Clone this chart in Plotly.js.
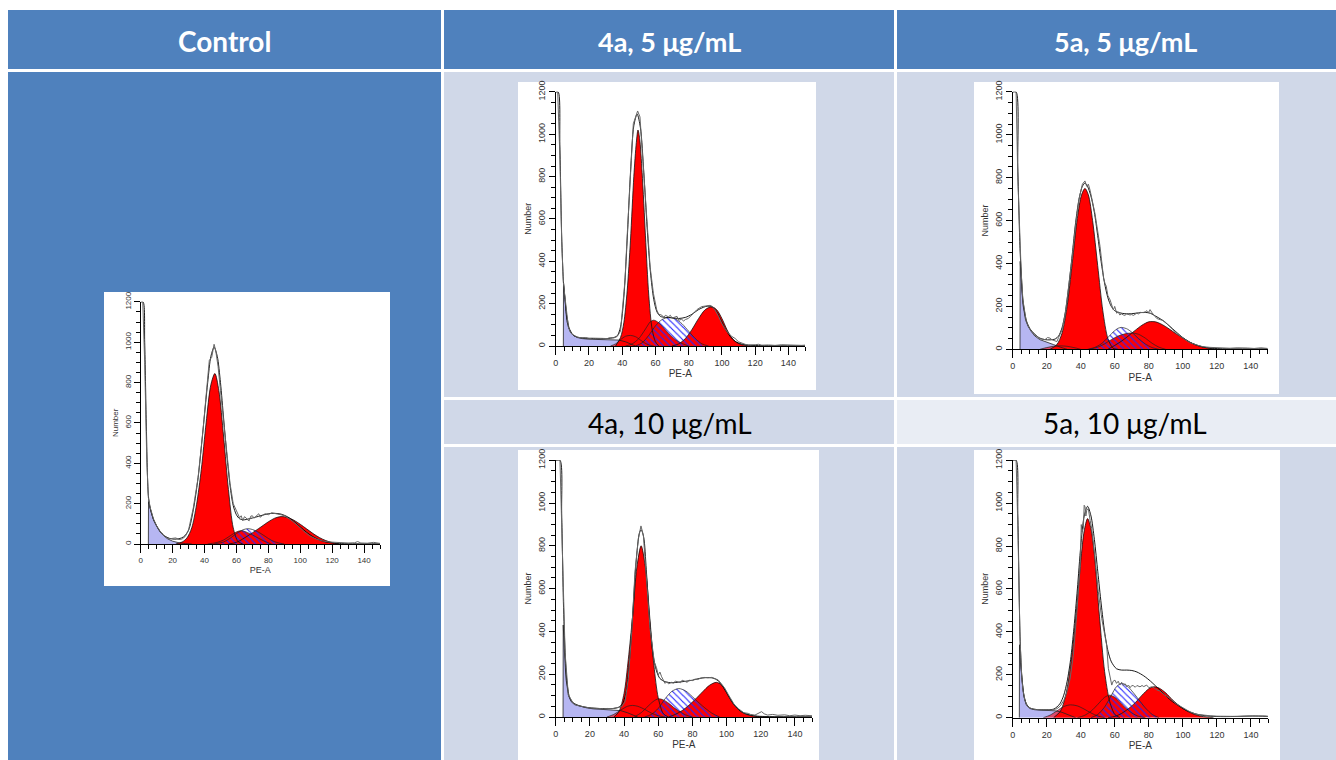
<!DOCTYPE html>
<html><head><meta charset="utf-8">
<script src="https://cdn.plot.ly/plotly-3.0.1.min.js"></script>
<style>html,body{margin:0;padding:0;background:#fff;overflow:hidden}#chart{width:1336px;height:760px}</style>
</head><body><div id="chart"></div>
<script>
// ---------- column / row labels ----------
const headerLabels = ['Control', '4a, 5 \u03bcg/mL', '5a, 5 \u03bcg/mL'];
const subLabels = ['4a, 10 \u03bcg/mL', '5a, 10 \u03bcg/mL'];
const xTitle = 'PE-A';
const yTitle = 'Number';

// ---------- Control ----------
const ctrlDebris = [[4.8,0],[4.9,210],[5.5,190],[6.5,160],[8,120],[10,88],[12,62],[14,44],[17,25],[20,14],[24,6],[28,2],[32,0]];
const ctrlAgg = null;
const ctrlG1 = [[22,0],[26,10],[29,30],[32,80],[35,195],[38,370],[41,600],[44,790],[46.5,845],[49,760],[52,530],[55,270],[58,80],[61,12],[64,0]];
const ctrlH2 = [[42,0],[48,8],[52,20],[56,40],[60,60],[63,66],[66,60],[70,45],[74,28],[78,12],[82,0]];
const ctrlS = [[46,0],[52,10],[56,28],[60,52],[64,70],[67,76],[70,72],[74,58],[78,38],[82,18],[86,6],[90,0]];
const ctrlG2 = [[55,0],[60,8],[64,25],[68,45],[72,66],[76,88],[80,110],[84,128],[88,136],[92,132],[96,118],[100,98],[104,75],[108,52],[112,32],[116,17],[120,7],[124,0]];
const ctrlData = [[0,1200],[1.3,1200],[2.5,900],[3.8,420],[4.8,230],[6,180],[8,125],[10,90],[12,65],[14,45],[16,32],[18,25],[20,28],[22,30],[24,22],[26,25],[28,38],[30,70],[33,180],[36,330],[39,560],[42,850],[43,910],[44.5,925],[46,990],[47,960],[48.5,880],[50,760],[52,610],[54,450],[56,300],[58,200],[60,165],[61,150],[62,130],[63,140],[64,115],[65,135],[66,130],[67,120],[68,115],[69,138],[70,140],[71,128],[72,135],[73,145],[74,150],[75,132],[76,140],[78,150],[80,145],[82,155],[84,150],[86,148],[88,145],[90,140],[94,120],[98,95],[102,65],[106,40],[110,25],[114,15],[118,10],[122,8],[126,8],[130,5],[134,6],[136,12],[138,5],[142,4],[146,8],[150,3]];
const ctrlFit = [[0,1200],[1.5,1200],[2.5,1000],[3.5,600],[4.8,240],[6,175],[8,122],[10,90],[12,64],[15,40],[18,28],[21,24],[24,26],[27,36],[30,68],[33,170],[36,330],[39,560],[42,800],[44,930],[46,975],[48,930],[50,800],[52,620],[54,440],[56,290],[58,190],[60,145],[62,125],[65,120],[68,125],[72,133],[76,142],[80,150],[84,152],[88,148],[92,135],[96,112],[100,85],[104,58],[108,36],[112,20],[116,10],[120,5],[126,2],[135,1],[150,1]];

// ---------- 4a, 5 ug/mL ----------
const a5Debris = [[4.6,0],[4.7,300],[5.5,230],[6.5,150],[8,85],[10,55],[13,40],[16,35],[20,32],[25,31],[30,31],[35,30],[38,28],[42,20],[46,8],[48,0]];
const a5Agg = [[33,0],[36,10],[39,30],[42,46],[45,50],[48,44],[51,28],[54,12],[57,3],[59,0]];
const a5G1 = [[36,0],[39,40],[41,110],[43,260],[45,500],[47,800],[48.5,960],[49.5,1020],[50.5,980],[52,820],[54,520],[56,240],[58,80],[60,20],[62,0]];
const a5H2 = [[42,0],[46,10],[50,35],[54,80],[57,115],[59,122],[62,110],[65,85],[68,58],[72,30],[76,12],[80,0]];
const a5S = [[48,0],[52,15],[56,50],[60,95],[64,125],[68,135],[72,128],[76,105],[80,70],[84,35],[88,10],[92,0]];
const a5G2 = [[70,0],[74,10],[78,35],[82,78],[86,130],[90,172],[94,185],[97,170],[100,130],[103,78],[106,38],[109,16],[112,6],[116,1],[120,0]];
const a5Data = [[0,1200],[1.2,1200],[2.5,900],[3.6,500],[4.6,300],[5.6,230],[7.6,91],[9,62],[10.6,52],[13,42],[15.6,38],[18,40],[20,36],[22,37],[25,35],[28,36],[31,35],[33,40],[35,38],[37,45],[39,70],[41.7,311],[43,520],[44.7,783],[46,980],[46.7,1050],[48.1,1082],[49.3,1110],[50.7,1082],[52.7,862],[54.8,594],[56.8,374],[58.8,248],[60.8,170],[62,150],[63.8,146],[65,135],[66,145],[67.8,138],[69,145],[70,132],[71.8,135],[73,140],[74,122],[75.8,126],[77,118],[78,125],[79.8,130],[81,140],[83.8,162],[85,172],[87.8,186],[90,190],[92.9,192],[94,188],[95.9,170],[98,140],[99.9,107],[102,80],[103.9,60],[106,45],[107.9,36],[110,20],[111.9,13],[114,8],[115.9,5],[118,4],[120,6],[122,8],[124,4],[128,5],[132,3],[136,6],[140,4],[144,5],[148,3],[150,4]];
const a5Fit = [[0,1200],[1.5,1200],[2.5,950],[3.6,520],[4.6,310],[5.6,220],[7,110],[9,65],[11,48],[14,40],[18,37],[24,35],[30,35],[34,38],[37,48],[39,90],[41,230],[43,500],[45,820],[47,1040],[49,1095],[51,1030],[53,820],[55,560],[57,350],[59,220],[61,160],[63,140],[66,135],[70,133],[74,130],[78,135],[82,150],[86,172],[90,186],[93,188],[96,172],[99,130],[102,82],[105,45],[108,22],[112,9],[116,4],[122,2],[150,1]];

// ---------- 5a, 5 ug/mL ----------
const b5Debris = [[4.3,0],[4.4,410],[5,330],[6,210],[7.5,140],[9,108],[11,82],[13,62],[16,45],[20,35],[24,22],[28,10],[32,0]];
const b5Agg = [[16,0],[20,8],[24,14],[28,16],[32,14],[36,8],[40,0]];
const b5G1 = [[22,0],[26,22],[29,75],[32,200],[35,400],[38,610],[40.5,720],[42.5,750],[44.5,720],[47,600],[50,390],[53,180],[56,50],[59,5],[62,0]];
const b5H2 = [[45,0],[50,10],[54,25],[58,45],[62,62],[66,72],[70,76],[74,70],[78,52],[82,28],[86,10],[90,0]];
const b5S = [[44,0],[48,8],[52,25],[56,55],[59,80],[62,98],[64,102],[67,96],[70,80],[74,50],[78,25],[82,8],[86,0]];
const b5G2 = [[56,0],[60,18],[64,38],[68,62],[72,88],[76,112],[80,128],[84,128],[88,115],[92,95],[96,73],[100,53],[104,34],[108,20],[112,10],[116,4],[120,0]];
const b5Data = [[0,1200],[2,1200],[3,800],[4.3,460],[5,360],[6,230],[8,130],[10,95],[13,68],[16,50],[19,45],[20.5,55],[22,52],[23,45],[25,40],[26,36],[27,55],[29,90],[31,170],[33,290],[35,430],[37,580],[39,700],[41,770],[42.5,785],[43.5,760],[44.5,770],[45.5,742],[48.4,633],[51.4,478],[53.5,330],[54.3,307],[55,295],[56,250],[57.3,230],[59.2,183],[60,200],[61.2,168],[62,175],[63,160],[64,165],[65.1,160],[66,158],[67,165],[69,160],[70,162],[71,158],[72.9,168],[74,165],[75,172],[76.9,171],[78,175],[79,180],[80,172],[80.8,185],[82,170],[84.7,144],[86,140],[88.6,134],[90,125],[92.5,106],[96,78],[100.4,51],[104,32],[108.2,20],[112,12],[116,9],[120,7],[124,5],[127.8,5],[132,7],[135,5],[138,6],[142,4],[146,7],[150,4]];
const b5Fit = [[0,1200],[2,1200],[3,850],[4.3,470],[5,360],[6,230],[8,135],[10,98],[13,70],[16,52],[19,45],[22,44],[25,48],[27,62],[29,100],[31,175],[33,295],[35,440],[37,590],[39,700],[41,760],[42.5,775],[44,760],[46,715],[48,640],[50,530],[52,410],[54,310],[56,240],[58,200],[60,180],[63,170],[66,166],[70,166],[74,170],[78,172],[81,168],[84,155],[88,136],[92,110],[96,82],[100,55],[104,34],[108,20],[112,11],[116,6],[122,3],[150,2]];

// ---------- 4a, 10 ug/mL ----------
const a10Debris = [[4.3,0],[4.4,430],[5,320],[6,180],[7.5,100],[9,72],[11,58],[14,50],[18,43],[22,38],[26,36],[30,35],[34,33],[38,30],[42,20],[46,8],[48,0]];
const a10Agg = [[30,0],[34,12],[38,32],[42,50],[45,54],[48,50],[52,36],[56,18],[60,6],[64,0]];
const a10G1 = [[34,0],[37,25],[40,110],[42.5,270],[45,470],[47.5,700],[50,800],[52.5,700],[55,470],[57.5,240],[60,90],[63,15],[66,0]];
const a10H2 = [[46,0],[50,20],[54,50],[57,72],[60,85],[63,80],[66,65],[69,45],[72,28],[76,10],[80,0]];
const a10S = [[52,0],[56,12],[60,40],[64,85],[68,120],[72,133],[76,122],[80,95],[84,65],[88,38],[92,15],[96,0]];
const a10G2 = [[66,0],[70,12],[74,30],[78,55],[82,85],[86,118],[90,148],[94,162],[97,150],[100,115],[103,72],[106,42],[110,18],[114,7],[118,2],[122,0]];
const a10Data = [[0,1200],[2.5,1200],[3.5,900],[4.5,520],[5.5,300],[7.4,103],[10.3,64],[12,55],[15.2,48],[18,45],[20,42],[22,40],[25,40],[28,38],[30,40],[33,39],[36,42],[38.6,48],[40.6,72],[42.5,180],[44.5,398],[46.4,678],[48.4,834],[49.9,893],[51.3,850],[53.2,647],[55.2,414],[57.7,258],[59,230],[60,196],[61,210],[62,188],[63,175],[64,157],[65,165],[66,155],[67.8,162],[69,158],[70,168],[71.7,165],[73,160],[74,172],[75.6,168],[77,162],[78,172],[80,170],[81.5,177],[83,175],[85,182],[87.3,185],[89,183],[91.2,185],[93,180],[95.1,173],[97,155],[99,134],[101,105],[102.9,79],[104.5,58],[106.8,40],[109,28],[110,20],[112.7,17],[114,12],[116.6,9],[118,14],[120.5,25],[122,15],[124,9],[127,12],[130,8],[134,10],[137,6],[140,9],[143,6],[146,8],[150,6]];
const a10Fit = [[0,1200],[2.5,1200],[3.5,950],[4.5,540],[5.5,300],[6.5,170],[8,95],[10,68],[13,55],[16,48],[20,43],[25,40],[30,39],[34,40],[37,46],[39,60],[41,110],[43,250],[45,470],[47,720],[49,860],[50,875],[51.5,840],[53,690],[55,450],[57,290],[59,215],[61,180],[64,165],[68,160],[72,163],[76,167],[80,172],[84,180],[88,184],[92,182],[95,170],[98,140],[101,100],[104,62],[107,35],[110,19],[114,9],[118,4],[125,2],[150,1]];

// ---------- 5a, 10 ug/mL ----------
const b10Debris = [[3.9,0],[4,340],[4.6,250],[5.5,160],[6.5,100],[8,60],[10,43],[13,37],[17,35],[21,34],[25,32],[29,25],[33,12],[37,0]];
const b10Agg = [[18,0],[22,12],[26,32],[30,52],[34,60],[38,55],[42,40],[46,22],[50,8],[54,0]];
const b10G1 = [[24,0],[28,30],[31,100],[34,240],[37,460],[40,730],[42,870],[44,928],[46,880],[48,760],[51,470],[54,215],[57,75],[60,15],[63,0]];
const b10H2 = [[38,0],[42,10],[46,30],[50,62],[54,95],[57,105],[60,95],[63,72],[66,48],[70,22],[74,6],[78,0]];
const b10S = [[46,0],[50,15],[54,50],[58,105],[61,145],[64,160],[67,150],[70,125],[74,85],[78,45],[82,15],[86,0]];
const b10G2 = [[56,0],[60,6],[64,20],[68,42],[72,70],[76,105],[80,135],[83,144],[86,138],[90,115],[94,82],[98,55],[102,33],[106,18],[110,8],[114,3],[118,0]];
const b10Data = [[0,1200],[2,1200],[3,900],[4.3,370],[5.3,190],[6,130],[7.2,80],[8.5,55],[10.2,45],[12,40],[14.1,38],[17,37],[20,36],[23,36],[26,42],[28,55],[30,80],[31.5,110],[33.7,180],[35.6,290],[37.6,480],[39.6,700],[40.3,900],[40.7,866],[41.5,882],[42,990],[42.5,983],[43,940],[43.5,967],[44.4,975],[45.5,920],[46.4,882],[48.4,742],[50.3,587],[52.3,463],[54,380],[55.2,338],[56.2,230],[57,200],[58.2,152],[59,170],[60.1,175],[61,160],[62,170],[63,152],[64,165],[65,150],[66,158],[67,144],[68,152],[69,140],[70,150],[70.9,149],[72,142],[73,150],[74.8,144],[76,150],[77,145],[78.7,152],[80,140],[81.7,144],[83,140],[84,132],[86.5,124],[89,108],[92.4,90],[96,65],[100.3,43],[104,28],[108,16],[112,11],[116,9],[120,7],[124,6],[128,8],[132,6],[136,7],[140,8],[144,6],[148,8],[150,6]];
const b10Fit = [[0,1200],[2,1200],[3,950],[4.3,380],[5.3,200],[6.5,110],[8,65],[10,46],[13,39],[17,37],[21,37],[24,40],[26,50],[28,68],[30,105],[32,170],[34,270],[36,420],[38,600],[40,800],[42,940],[44,985],[46,940],[48,830],[50,680],[52,530],[54,400],[56,310],[58,260],[61,228],[64,222],[67,222],[70,220],[73,213],[77,195],[81,170],[85,140],[89,110],[93,80],[97,58],[101,38],[105,24],[110,13],[116,7],[124,5],[132,6],[141,8],[150,6]];

// ---------- panel wiring (geometry in pixels of the 1336x760 page) ----------
const W = 1336, H = 760;
const panels = [
  {debris:ctrlDebris, agg:ctrlAgg, g1:ctrlG1, h2:ctrlH2, s:ctrlS, g2:ctrlG2, data:ctrlData, fit:ctrlFit, px:[140.7,380], py:[544,301.7], fs:8},
  {debris:a5Debris, agg:a5Agg, g1:a5G1, h2:a5H2, s:a5S, g2:a5G2, data:a5Data, fit:a5Fit, px:[555.7,805], py:[346,91.7], fs:9},
  {debris:b5Debris, agg:b5Agg, g1:b5G1, h2:b5H2, s:b5S, g2:b5G2, data:b5Data, fit:b5Fit, px:[1012.7,1267.7], py:[349.3,91.7], fs:9},
  {debris:a10Debris, agg:a10Agg, g1:a10G1, h2:a10H2, s:a10S, g2:a10G2, data:a10Data, fit:a10Fit, px:[555.7,812], py:[717,460], fs:9},
  {debris:b10Debris, agg:b10Agg, g1:b10G1, h2:b10H2, s:b10S, g2:b10G2, data:b10Data, fit:b10Fit, px:[1012.7,1268], py:[717.7,460], fs:9}
];

const LAV = '#b6b6f2', RED = '#ff0000', PINK = 'rgba(226,62,92,0.9)', HATCH = '#2626ff';
const xs = p => p.map(d => d[0]);
const ys = p => p.map(d => d[1]);

const traces = [];
const layout = {
  width: W, height: H, margin: {l:0, r:0, t:0, b:0},
  paper_bgcolor: '#ffffff', plot_bgcolor: 'rgba(0,0,0,0)',
  showlegend: false, shapes: [], annotations: []
};

panels.forEach((p, i) => {
  const n = i === 0 ? '' : String(i + 1);
  const xa = 'x' + n, ya = 'y' + n;
  const base = {type:'scatter', mode:'lines', xaxis:xa, yaxis:ya, hoverinfo:'skip'};
  const fillT = (pts, color, shape) => Object.assign({}, base, {
    x: xs(pts), y: ys(pts), fill:'tozeroy', fillcolor: color,
    line: {width:0, shape: shape, smoothing: 1}
  });
  const lineT = (pts, color, w, shape) => Object.assign({}, base, {
    x: xs(pts), y: ys(pts), line: {color: color, width: w, shape: shape, smoothing: 0.8}
  });
  // fills
  traces.push(fillT(p.debris, LAV, 'linear'));
  if (p.agg) traces.push(fillT(p.agg, PINK, 'spline'));
  traces.push(fillT(p.g1, RED, 'spline'));
  traces.push(fillT(p.h2, RED, 'spline'));
  traces.push(fillT(p.g2, RED, 'spline'));
  const sT = fillT(p.s, 'rgba(0,0,0,0)', 'spline');
  sT.fillpattern = {shape:'\\', fgcolor: HATCH, bgcolor:'rgba(0,0,0,0)', size:4.5, solidity:0.25};
  traces.push(sT);
  // outlines
  traces.push(lineT(p.debris, '#222', 0.8, 'linear'));
  if (p.agg) traces.push(lineT(p.agg, '#222', 0.7, 'spline'));
  traces.push(lineT(p.g1, '#111', 0.8, 'spline'));
  traces.push(lineT(p.h2, '#222', 0.7, 'spline'));
  traces.push(lineT(p.g2, '#111', 0.8, 'spline'));
  traces.push(lineT(p.s, '#222', 0.7, 'spline'));
  traces.push(lineT(p.fit, '#000', 0.9, 'spline'));
  traces.push(lineT(p.data, '#666', 1, 'linear'));

  const tf = {family:'Liberation Sans, Arial, sans-serif', size:p.fs, color:'#333'};
  layout['xaxis' + n] = {
    domain: [p.px[0] / W, p.px[1] / W], anchor: ya, range: [0, 150],
    showgrid:false, zeroline:false, showline:true, linecolor:'#000', linewidth:1,
    ticks:'outside', ticklen:8, tickwidth:1, tickcolor:'#000', tick0:0, dtick:20,
    tickfont: tf, minor: {dtick:5, ticks:'outside', ticklen:4, tickcolor:'#000', showgrid:false},
    title: {text: xTitle, font: {family: tf.family, size: p.fs + 1, color:'#333'}, standoff: 3},
    fixedrange: true
  };
  layout['yaxis' + n] = {
    domain: [1 - p.py[0] / H, 1 - p.py[1] / H], anchor: xa, range: [0, 1201],
    showgrid:false, zeroline:false, showline:true, linecolor:'#000', linewidth:1,
    ticks:'outside', ticklen:6, tickwidth:1, tickcolor:'#000', tick0:0, dtick:200,
    tickangle: -90, tickfont: tf,
    minor: {dtick:50, ticks:'outside', ticklen:4, tickcolor:'#000', showgrid:false},
    title: {text: yTitle, font: {family: tf.family, size: p.fs, color:'#333'}, standoff: 3},
    fixedrange: true
  };
});

// ---------- table cells and image boxes ----------
const rect = (x0, y0, x1, y1, c) => ({type:'rect', xref:'paper', yref:'paper', layer:'below',
  x0: x0 / W, x1: x1 / W, y0: 1 - y1 / H, y1: 1 - y0 / H, fillcolor: c, line: {width:0}});
const BLUE = '#4f81bd', LIGHT = '#d0d8e8', PALE = '#e9edf4';
layout.shapes.push(
  rect(8, 10, 441, 69, BLUE), rect(444, 10, 894, 69, BLUE), rect(897, 10, 1336, 69, BLUE),
  rect(8, 72, 441, 760, BLUE),
  rect(444, 72, 894, 397, LIGHT), rect(444, 400, 894, 444, LIGHT), rect(444, 447, 894, 760, LIGHT),
  rect(897, 72, 1336, 397, LIGHT), rect(897, 400, 1336, 444, PALE), rect(897, 447, 1336, 760, LIGHT),
  rect(104, 292, 390, 586, '#fff'), rect(518, 82, 816, 390, '#fff'), rect(974, 82, 1279, 394, '#fff'),
  rect(518, 450, 819, 760, '#fff'), rect(974, 450, 1280, 760, '#fff')
);
const ann = (txt, x, y, bold, color, size) => ({xref:'paper', yref:'paper', x: x / W, y: 1 - y / H,
  xanchor:'center', yanchor:'middle', showarrow:false,
  text: bold ? '<b>' + txt + '</b>' : txt,
  font: {family:'Lato, "Open Sans", sans-serif', size:size, color: color}});
layout.annotations.push(
  ann(headerLabels[0], 224.5, 41, true, '#fff', 28),
  ann(headerLabels[1], 669, 41, true, '#fff', 27),
  ann(headerLabels[2], 1125, 41, true, '#fff', 27),
  ann(subLabels[0], 670, 423, false, '#000', 28),
  ann(subLabels[1], 1125, 423, false, '#000', 28)
);

Plotly.newPlot('chart', traces, layout, {displayModeBar:false, staticPlot:true});
</script></body></html>
